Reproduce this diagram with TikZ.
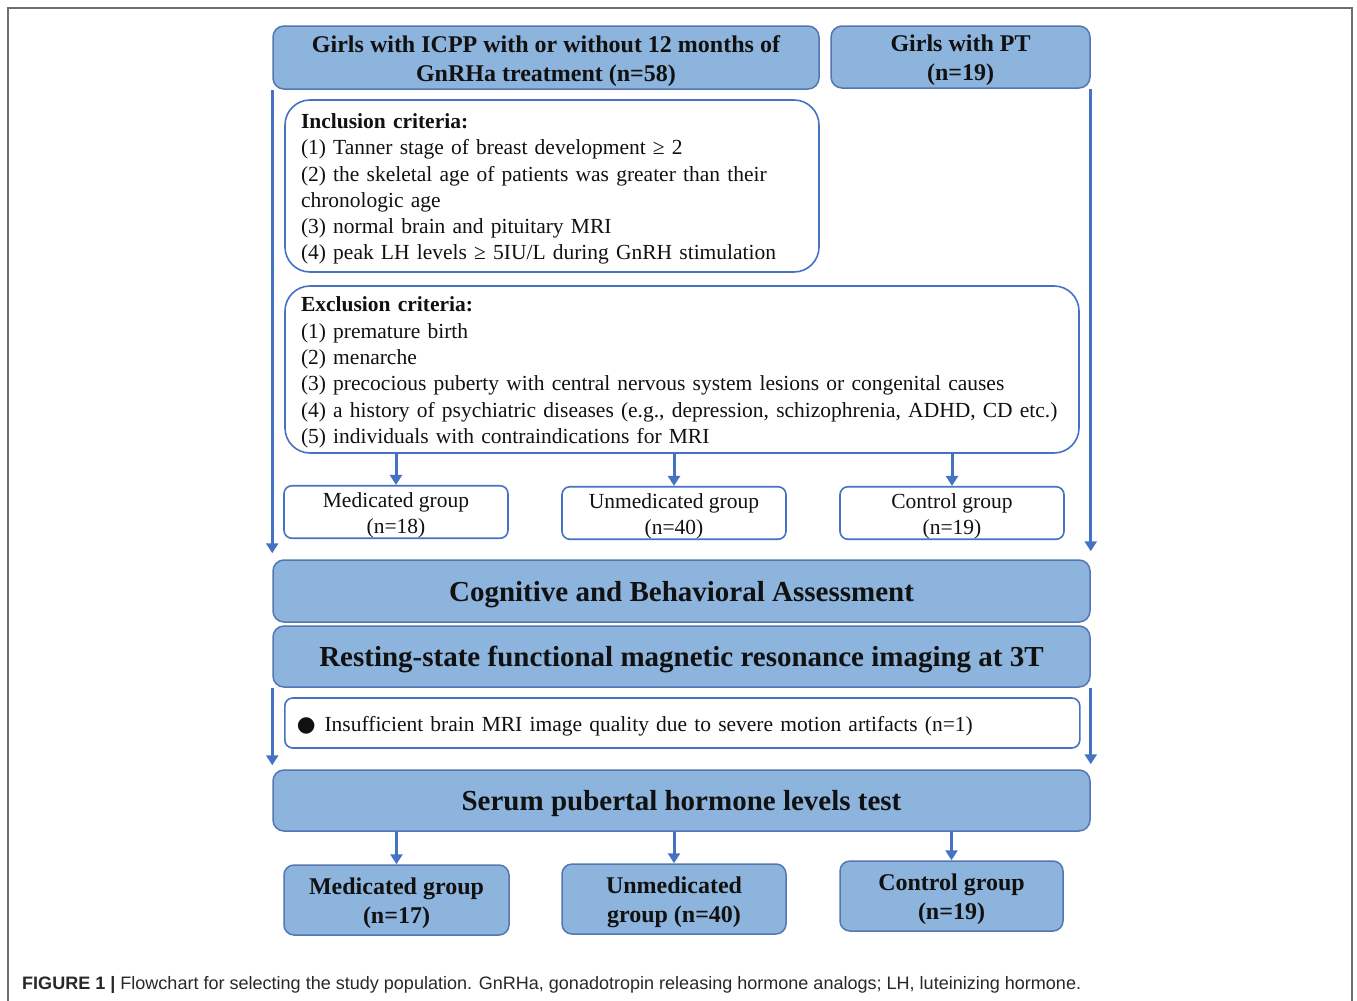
\documentclass[tikz,border=0pt]{standalone}
\usepackage{fontspec}
\setmainfont{Liberation Serif}
\newfontfamily\capfont{Liberation Sans}
\newfontfamily\symfont{DejaVu Sans}
\usetikzlibrary{arrows.meta}
\definecolor{boxfill}{RGB}{141,180,221}
\definecolor{boxline}{RGB}{84,118,178}
\definecolor{arrowcol}{RGB}{70,114,196}
\definecolor{txt}{RGB}{17,17,17}
\tikzset{
  bluebox/.style={draw=boxline, line width=1.5pt, fill=boxfill, rounded corners=11pt,
    inner sep=0pt, align=center, text=txt},
  whitebox/.style={draw=arrowcol, line width=1.6pt, fill=white, rounded corners=8pt,
    inner sep=0pt, align=center, text=txt},
  critbox/.style={draw=arrowcol, line width=1.6pt, fill=white, rounded corners=25pt,
    inner xsep=16pt, inner ysep=0pt, align=left, text=txt},
  flowarrow/.style={draw=arrowcol, line width=3pt, -{Triangle[width=12pt,length=10pt]}},
  lower/.style={execute at begin node={\rule{0pt}{#1}}},
  titlefont/.style={font=\fontsize{24}{29}\selectfont\bfseries, lower=53pt},
  bigfont/.style={font=\fontsize{29}{34}\selectfont\bfseries, lower=27pt},
  bodyfont/.style={font=\fontsize{21.5}{26.3}\selectfont, lower=21pt},
  groupfont/.style={font=\fontsize{21.5}{26.3}\selectfont, lower=48pt},
}
\begin{document}
\begin{tikzpicture}[x=1pt,y=-1pt]
\useasboundingbox (0,0) rectangle (1357,1001);
\fill[white] (0,0) rectangle (1357,1001);
\draw[line width=1.5pt, draw={rgb,255:red,110;green,110;blue,110}] (8,1010) -- (8,8) -- (1352,8) -- (1352,1010);

% top boxes
\node[bluebox, titlefont, minimum width=546pt, minimum height=63pt] (icpp) at (546,57.5)
  {Girls with ICPP with or without 12 months of\\GnRHa treatment (n=58)};
\node[bluebox, titlefont, minimum width=259pt, minimum height=62pt] (pt) at (960.5,57)
  {Girls with PT\\(n=19)};

% criteria boxes
\node[critbox, bodyfont, text width=502pt, minimum height=172pt] (incl) at (552,186)
  {\textbf{Inclusion criteria:}\\
   (1) Tanner stage of breast development ≥ 2\\
   (2) the skeletal age of patients was greater than their\\
   chronologic age\\
   (3) normal brain and pituitary MRI\\
   (4) peak LH levels ≥ 5IU/L during GnRH stimulation};
\node[critbox, bodyfont, text width=762pt, minimum height=167pt] (excl) at (682,369.5)
  {\textbf{Exclusion criteria:}\\
   (1) premature birth\\
   (2) menarche\\
   (3) precocious puberty with central nervous system lesions or congenital causes\\
   (4) a history of psychiatric diseases (e.g., depression, schizophrenia, ADHD, CD etc.)\\
   (5) individuals with contraindications for MRI};

% first groups
\node[whitebox, groupfont, minimum width=224pt, minimum height=52pt] (med1) at (396,512)
  {Medicated group\\(n=18)};
\node[whitebox, groupfont, minimum width=224pt, minimum height=52pt] (unmed1) at (674,513)
  {Unmedicated group\\(n=40)};
\node[whitebox, groupfont, minimum width=224pt, minimum height=52pt] (ctrl1) at (952,513)
  {Control group\\(n=19)};

% assessments
\node[bluebox, bigfont, minimum width=817pt, minimum height=62pt] (cog) at (681.5,591)
  {Cognitive and Behavioral Assessment};
\node[bluebox, bigfont, minimum width=817pt, minimum height=61pt] (rs) at (681.5,656.5)
  {Resting-state functional magnetic resonance imaging at 3T};
\node[whitebox, bodyfont, align=left, anchor=west, text width=771pt, inner xsep=12pt,
  minimum height=50pt] (insuff) at (284,723)
  {{\symfont ●}\hspace{9pt}Insufficient brain MRI image quality due to severe motion artifacts (n=1)};
\node[bluebox, bigfont, minimum width=817pt, minimum height=61pt] (serum) at (681.5,800.5)
  {Serum pubertal hormone levels test};

% final groups
\node[bluebox, titlefont, rounded corners=10pt, minimum width=225pt, minimum height=70pt] (med2) at (396.5,900)
  {Medicated group\\(n=17)};
\node[bluebox, titlefont, rounded corners=10pt, minimum width=224pt, minimum height=70pt] (unmed2) at (674,899)
  {Unmedicated\\group (n=40)};
\node[bluebox, titlefont, rounded corners=10pt, minimum width=223pt, minimum height=70pt] (ctrl2) at (951.5,896)
  {Control group\\(n=19)};

% arrows
\draw[flowarrow, shorten >=6pt] (icpp.south west) -- (icpp.south west |- cog.north);
\draw[flowarrow, shorten >=8pt] (pt.south east) -- (pt.south east |- cog.north);
\draw[flowarrow] (excl.south -| med1.north) -- (med1.north);
\draw[flowarrow] (excl.south -| unmed1.north) -- (unmed1.north);
\draw[flowarrow] (excl.south -| ctrl1.north) -- (ctrl1.north);
\draw[flowarrow, shorten >=4pt] (rs.south west) -- (rs.south west |- serum.north);
\draw[flowarrow, shorten >=5pt] (rs.south east) -- (rs.south east |- serum.north);
\draw[flowarrow] (serum.south -| med2.north) -- (med2.north);
\draw[flowarrow] (serum.south -| unmed2.north) -- (unmed2.north);
\draw[flowarrow] (serum.south -| ctrl2.north) -- (ctrl2.north);

% caption
\node[anchor=base west, inner sep=0pt, text={rgb,255:red,40;green,40;blue,40}] (cap) at (22,989)
  {\resizebox{1059pt}{\height}{\capfont\fontsize{18}{22}\selectfont\textbf{FIGURE 1} {\textbf{|}} Flowchart for selecting the study population. GnRHa, gonadotropin releasing hormone analogs; LH, luteinizing hormone.}};
\end{tikzpicture}
\end{document}
